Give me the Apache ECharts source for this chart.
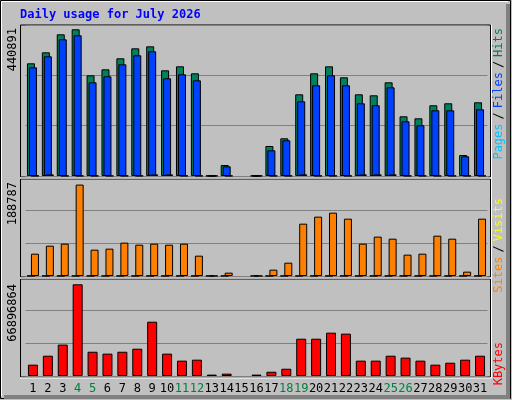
<!DOCTYPE html>
<html><head><meta charset="utf-8">
<script src="https://cdn.jsdelivr.net/npm/echarts@6/dist/echarts.min.js"></script>
<style>html,body{margin:0;padding:0;background:#c0c0c0}#c{width:512px;height:400px}</style>
</head><body><div id="c"></div>
<script>
const days = ['1','2','3','4','5','6','7','8','9','10','11','12','13','14','15','16','17','18','19','20','21','22','23','24','25','26','27','28','29','30','31'];
const weekend = ['4','5','11','12','18','19','25','26'];
const hits = [338700,371700,425800,440891,302600,320600,353700,383700,389700,317600,329600,308600,600,33100,null,600,90200,113300,245500,308600,329600,296600,245500,242500,281600,179400,173400,212500,218500,63100,221500];
const files = [326600,359700,410800,422800,281600,299600,335700,362700,374700,293600,305600,287600,600,29100,null,600,77200,107300,224500,272600,302600,272600,218500,212500,266500,164400,152400,197400,197400,59200,200400];
const pages = [600,5000,600,600,600,600,600,600,5000,5000,600,600,600,600,null,600,600,600,5000,600,600,600,5000,5000,5000,600,600,600,600,600,600];
const visits = [46100,62600,66800,188787,54400,56500,68900,64700,66800,64700,66800,42000,300,6900,null,300,13100,27500,108100,122600,130800,118400,66800,81300,77100,44100,46100,83300,77100,9000,118400];
const sites = [300,300,300,300,300,300,300,300,300,300,300,300,300,300,null,300,300,300,300,300,300,300,300,300,300,300,300,300,300,300,300];
const kbytes = [8270000,14800000,22900000,66896864,17700000,16300000,17700000,19900000,39600000,16300000,11200000,11900000,1000000,1700000,null,1000000,3100000,5300000,27200000,27200000,31600000,30900000,11200000,11200000,14800000,13400000,11200000,8270000,9700000,11900000,14800000];
const maxLabels = ['440891','188787','66896864'];
const axMax = [453800,204500,72220000];

const chart = echarts.init(document.getElementById('c'));
const mono = 'DejaVu Sans Mono';
const grids = [{left:25.5,width:462,top:25,height:151},{left:25.5,width:462,top:177,height:99},{left:25.5,width:462,top:277,height:99}];
const xAxes = grids.map((g,i)=>({type:'category',gridIndex:i,data:days,axisLine:{show:false},axisTick:{show:false},
  axisLabel:i<2?{show:false}:{show:true,interval:0,margin:7,fontFamily:mono,fontSize:12,
   formatter:v=>weekend.includes(v)?'{w|'+v+'}':'{n|'+v+'}',rich:{w:{color:'#008040',fontFamily:mono,fontSize:12},n:{color:'#000',fontFamily:mono,fontSize:12}}}}));
const yAxes = grids.map((g,i)=>({type:'value',gridIndex:i,min:0,max:axMax[i],interval:axMax[i]/3,axisLabel:{show:false},axisLine:{show:false},axisTick:{show:false},
  splitLine:{show:true,lineStyle:{color:'#808080',width:1}}}));
const bs = (name,data,color,xi,gap,w)=>({name,type:'bar',xAxisIndex:xi,yAxisIndex:xi,data,barWidth:w,barGap:gap,
  itemStyle:{color,borderColor:'#000',borderWidth:1},animation:false});
const frame = (y,h)=>[
  {type:'rect',shape:{x:20.5,y:y+0.5,width:470,height:h},style:{fill:null,stroke:'#000',lineWidth:1},z:-1},
  {type:'polyline',shape:{points:[[491.5,y],[491.5,y+h+1.5],[20,y+h+1.5]]},style:{fill:null,stroke:'#fff',lineWidth:1},z:5}];
chart.setOption({
  backgroundColor:'#c0c0c0',
  grid:grids, xAxis:xAxes, yAxis:yAxes,
  series:[
    bs('Hits',hits,'#00805c',0,'-75%',8),
    bs('Files',files,'#0040ff',0,'-75%',8),
    bs('Pages',pages,'#00e0ff',0,'-75%',8),
    bs('Sites',sites,'#ffff00',1,'-50%',8),
    bs('Visits',visits,'#ff8000',1,'-50%',8),
    bs('KBytes',kbytes,'#ff0000',2,'30%',10)
  ],
  graphic:[
    {type:'rect',shape:{x:0.5,y:0.5,width:510,height:398},style:{fill:null,stroke:'#000',lineWidth:1},z:-2},
    {type:'polyline',shape:{points:[[1.5,396],[1.5,1.5],[508,1.5]]},style:{fill:null,stroke:'#fff',lineWidth:1},z:-2},
    {type:'rect',shape:{x:506,y:4,width:4,height:394},style:{fill:'#808080'},z:-2},
    {type:'rect',shape:{x:4,y:395,width:506,height:4},style:{fill:'#808080'},z:-2},
    ...frame(24.5,152), ...frame(178.5,98), ...frame(278.5,98),
    {type:'text',x:20,y:15,style:{text:'Daily usage for July 2026',fill:'#0000ff',font:'bold 12px "DejaVu Sans Mono"',verticalAlign:'middle'}},
    {type:'text',x:13,y:28,rotation:Math.PI/2,style:{text:maxLabels[0],fill:'#000',font:'12px "DejaVu Sans Mono"',align:'right',verticalAlign:'middle'}},
    {type:'text',x:13,y:182,rotation:Math.PI/2,style:{text:maxLabels[1],fill:'#000',font:'12px "DejaVu Sans Mono"',align:'right',verticalAlign:'middle'}},
    {type:'text',x:13,y:284,rotation:Math.PI/2,style:{text:maxLabels[2],fill:'#000',font:'12px "DejaVu Sans Mono"',align:'right',verticalAlign:'middle'}},
    {type:'text',x:499,y:28,rotation:Math.PI/2,style:{text:'{p|Pages}{s|/}{f|Files}{s|/}{h|Hits}',align:'right',verticalAlign:'middle',
      rich:{p:{fill:'#00c0ff',font:'12px "DejaVu Sans Mono"'},f:{fill:'#0040ff',font:'12px "DejaVu Sans Mono"'},h:{fill:'#008040',font:'12px "DejaVu Sans Mono"'},s:{fill:'#000',font:'12px "DejaVu Sans Mono"',padding:[0,4]}}}},
    {type:'text',x:499,y:198,rotation:Math.PI/2,style:{text:'{a|Sites}{s|/}{b|Visits}',align:'right',verticalAlign:'middle',
      rich:{a:{fill:'#ff8000',font:'12px "DejaVu Sans Mono"'},b:{fill:'#ffff00',font:'12px "DejaVu Sans Mono"'},s:{fill:'#000',font:'12px "DejaVu Sans Mono"',padding:[0,4]}}}},
    {type:'text',x:499,y:342,rotation:Math.PI/2,style:{text:'KBytes',fill:'#ff0000',font:'12px "DejaVu Sans Mono"',align:'right',verticalAlign:'middle'}}
  ]
});
</script></body></html>
